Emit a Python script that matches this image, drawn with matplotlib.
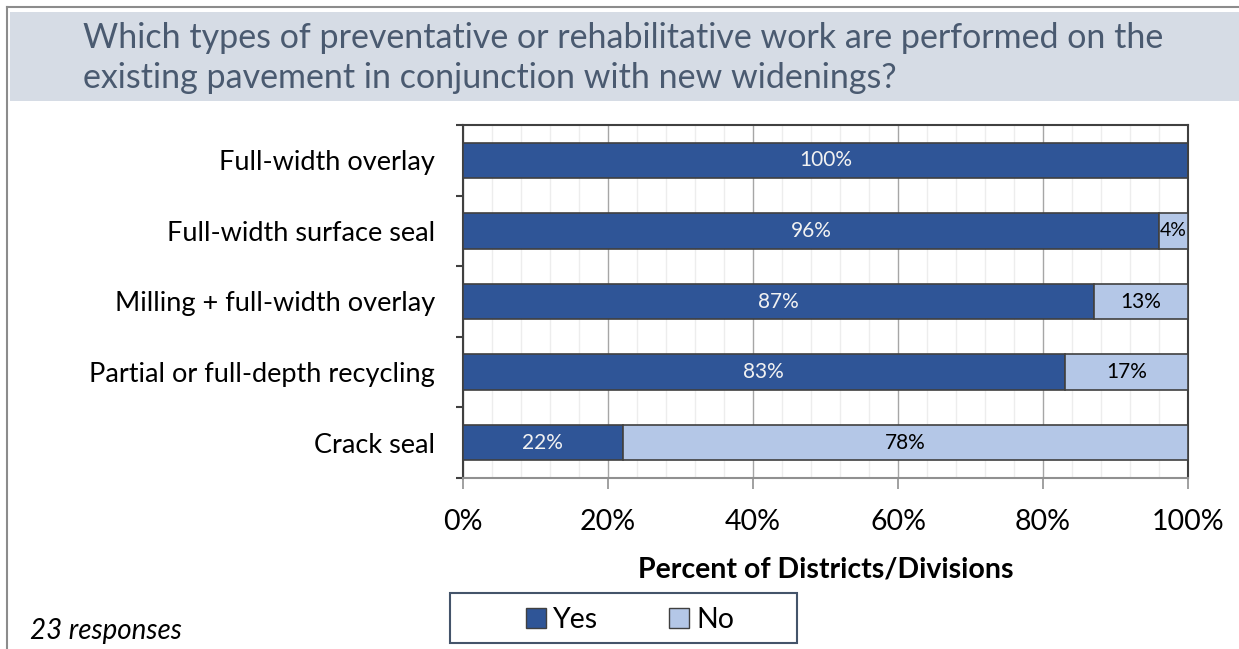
import numpy as np
import matplotlib.pyplot as plt
from matplotlib.patches import Rectangle, Patch
from matplotlib.lines import Line2D

plt.rcParams['font.family'] = ['Lato', 'DejaVu Sans']

categories = ["Full-width overlay", "Full-width surface seal", "Milling + full-width overlay",
              "Partial or full-depth recycling", "Crack seal"]
yes_pct = [100, 96, 87, 83, 22]
no_pct = [0, 4, 13, 17, 78]
x_ticks = [0, 20, 40, 60, 80, 100]
title = "Which types of preventative or rehabilitative work are performed on the\nexisting pavement in conjunction with new widenings?"

yes_col = "#2F5597"
no_col = "#B4C7E7"
edge = "#404040"

W, H = 1239, 649
fig = plt.figure(figsize=(W / 100, H / 100), dpi=100)

# frame lines and title banner
fig.add_artist(Line2D([7 / W, 7 / W], [0, 1 - 7 / H], color="#8C8C8C", lw=1.5))
fig.add_artist(Line2D([7 / W, 1], [1 - 7 / H, 1 - 7 / H], color="#8C8C8C", lw=1.5))
fig.add_artist(Rectangle((10 / W, 1 - 101 / H), 1 - 10 / W, 89 / H, transform=fig.transFigure,
                         facecolor="#D6DCE5", edgecolor="none"))
fig.text(83 / W, 1 - 58 / H, title, fontsize=24.5, color="#4A5A70",
         va="center", ha="left", linespacing=1.32)

ax = fig.add_axes([463 / W, 1 - 478 / H, 725 / W, 353 / H])
y = np.arange(len(categories))
ax.barh(y, yes_pct, height=0.5, color=yes_col, edgecolor=edge, lw=1.2, zorder=3, label="Yes")
ax.barh(y, no_pct, left=yes_pct, height=0.5, color=no_col, edgecolor=edge, lw=1.2, zorder=3, label="No")

for i in range(len(categories)):
    if yes_pct[i] > 0:
        ax.text(yes_pct[i] / 2, i, f"{yes_pct[i]}%", ha="center", va="center",
                color="#F2F2F2", fontsize=15, zorder=4)
    if no_pct[i] > 0:
        ax.text(yes_pct[i] + no_pct[i] / 2, i, f"{no_pct[i]}%", ha="center", va="center",
                color="black", fontsize=15 if no_pct[i] > 5 else 14, zorder=4)

ax.set_xlim(0, 100)
ax.set_ylim(len(categories) - 0.5, -0.5)
ax.set_xticks(x_ticks)
ax.set_xticklabels([f"{v}%" for v in x_ticks])
ax.set_xticks(np.arange(0, 101, 4), minor=True)
ax.tick_params(axis="x", which="major", labelsize=20.5, length=8, width=1.2, color="#909090", pad=14)
ax.tick_params(axis="x", which="minor", length=0)
ax.grid(axis="x", which="major", color="#A6A6A6", lw=1, zorder=0)
ax.grid(axis="x", which="minor", color="#EDEDED", lw=1, zorder=0)

ax.set_yticks(np.arange(-0.5, len(categories)), minor=True)
ax.set_yticks(y)
ax.set_yticklabels(categories)
ax.tick_params(axis="y", which="major", length=0, labelsize=19.5, pad=20)
ax.tick_params(axis="y", which="minor", length=5, width=1.5, color=edge)

for s in ["left", "top", "right"]:
    ax.spines[s].set_color(edge)
    ax.spines[s].set_linewidth(1.5)
ax.spines["bottom"].set_color("#909090")
ax.spines["bottom"].set_linewidth(1.5)

ax.set_xlabel("Percent of Districts/Divisions", fontsize=20.5, fontweight="bold", labelpad=16)

# legend box
fig.add_artist(Rectangle((450 / W, 1 - 643 / H), 347 / W, 50 / H, transform=fig.transFigure,
                         facecolor="white", edgecolor="#44546A", lw=1.5))
handles = [Patch(facecolor=yes_col, edgecolor=edge, label="Yes"),
           Patch(facecolor=no_col, edgecolor=edge, label="No")]
fig.legend(handles=handles, loc="center", bbox_to_anchor=(630 / W, 1 - 620 / H), ncol=2,
           frameon=False, fontsize=20.5, handlelength=0.7, handleheight=0.7, handletextpad=0.25,
           columnspacing=2.5)

fig.text(30 / W, 1 - 631 / H, "23 responses", fontsize=20, fontstyle="italic", va="center", ha="left")

fig.savefig("out.png", dpi=100)
